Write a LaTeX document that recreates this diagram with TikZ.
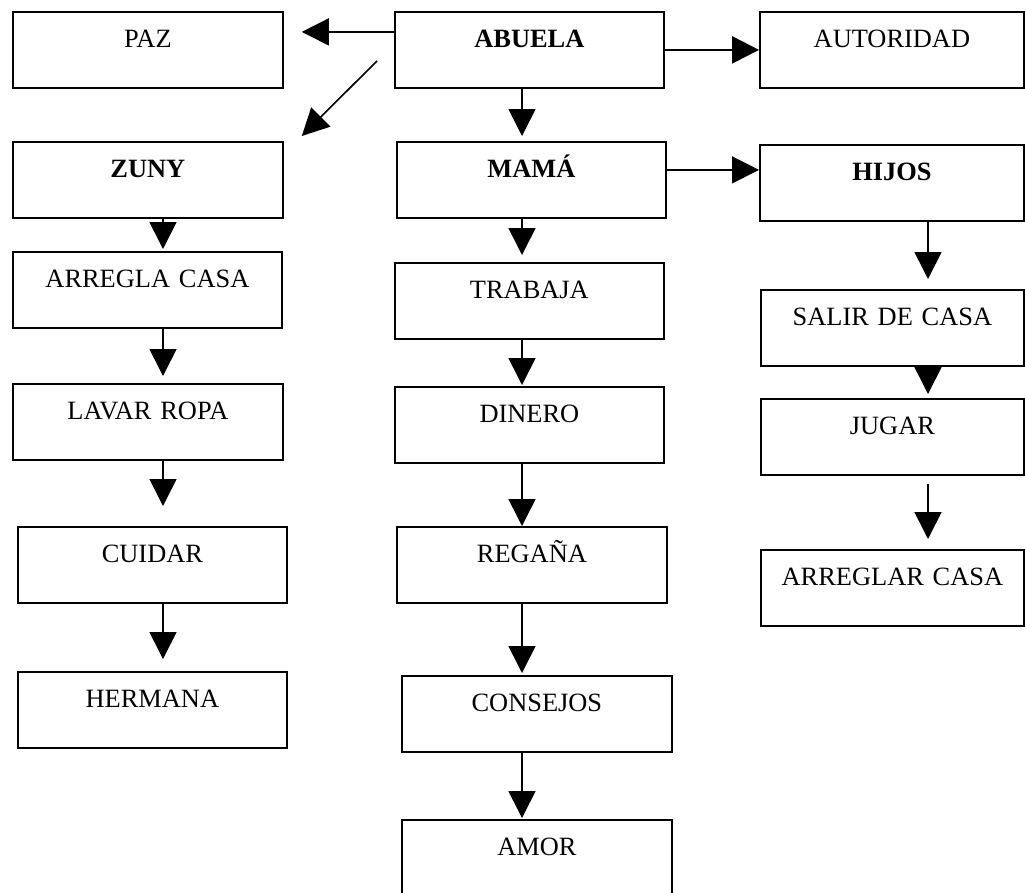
\documentclass[tikz,border=0pt]{standalone}
\usepackage{fontspec}
\setmainfont{Liberation Serif}
\usetikzlibrary{arrows.meta}

\tikzset{
	caja/.style={draw, line width=1.8pt, inner sep=0pt, anchor=north west, text width=#1, align=center, text height=36pt, text depth=40pt},
	caja/.default=269pt,
	flecha/.style={line width=1.6pt, -{Triangle[length=27pt,width=27pt]}}
}

\begin{document}
\begin{tikzpicture}[x=1pt, y=-1pt, font=\fontsize{26.4}{30}\selectfont]
	\useasboundingbox (0,0) rectangle (1025,892);
	% fila de arriba
	\node[caja=270pt] (paz) at (12,11) {PAZ};
	\node[caja] (abuela) at (394,11) {\textbf{ABUELA}};
	\node[caja=264pt] (autoridad) at (759,11) {AUTORIDAD};
	% izquierda
	\node[caja=270pt] (zuny) at (12,141) {\textbf{ZUNY}};
	\node[caja] (arregla) at (12,251) {ARREGLA CASA};
	\node[caja=270pt] (lavar) at (12,383) {LAVAR ROPA};
	\node[caja] (cuidar) at (17,526) {CUIDAR};
	\node[caja] (hermana) at (17,671) {HERMANA};
	% centro
	\node[caja] (mama) at (396,141) {\textbf{MAMÁ}};
	\node[caja] (trabaja) at (394,262) {TRABAJA};
	\node[caja] (dinero) at (394,386) {DINERO};
	\node[caja=270pt] (regana) at (396,526) {REGAÑA};
	\node[caja=270pt] (consejos) at (401,675) {CONSEJOS};
	\node[caja=270pt] (amor) at (401,819) {AMOR};
	% derecha
	\node[caja=264pt] (hijos) at (759,144) {\textbf{HIJOS}};
	\node[caja=263pt] (salir) at (760,289) {SALIR DE CASA};
	\node[caja=263pt] (jugar) at (760,398) {JUGAR};
	\node[caja=263pt] (arreglar) at (760,549) {ARREGLAR CASA};

	\coordinate (colizq) at (163,0);
	\coordinate (colcen) at (522,0);
	\coordinate (colder) at (928,0);

	% flechas
	\draw[flecha] ([yshift=18pt]abuela.west) -- ([xshift=18pt,yshift=18pt]paz.east);
	\draw[flecha] ([xshift=-17pt,yshift=-11pt]abuela.west) -- ([xshift=18pt,yshift=5pt]zuny.north east);
	\draw[flecha, line width=2.6pt] (abuela.east) -- (autoridad.west);
	\draw[flecha, shorten >=5pt] (abuela.south -| colcen) -- (mama.north -| colcen);
	\draw[flecha, line width=1.3pt] ([yshift=10pt]mama.east) -- ([yshift=10pt]mama.east -| hijos.west);

	\draw[flecha, shorten >=2pt] (zuny.south -| colizq) -- (arregla.north -| colizq);
	\draw[flecha, shorten >=7pt] (arregla.south -| colizq) -- (lavar.north -| colizq);
	\draw[flecha, shorten >=20pt] (lavar.south -| colizq) -- (cuidar.north -| colizq);
	\draw[flecha, shorten >=12pt] (cuidar.south -| colizq) -- (hermana.north -| colizq);

	\draw[flecha, shorten >=7pt] (mama.south -| colcen) -- (trabaja.north -| colcen);
	\draw[flecha, shorten >=1pt] (trabaja.south -| colcen) -- (dinero.north -| colcen);
	\draw[flecha] (dinero.south -| colcen) -- (regana.north -| colcen);
	\draw[flecha, shorten >=2pt] (regana.south -| colcen) -- (consejos.north -| colcen);
	\draw[flecha, shorten >=1pt] (consejos.south -| colcen) -- (amor.north -| colcen);

	\draw[flecha, shorten >=10pt] (hijos.south -| colder) -- (salir.north -| colder);
	\draw[flecha, shorten >=4pt] (salir.south -| colder) -- (jugar.north -| colder);
	\draw[flecha, shorten <=8pt, shorten >=10pt] (jugar.south -| colder) -- (arreglar.north -| colder);
\end{tikzpicture}
\end{document}
